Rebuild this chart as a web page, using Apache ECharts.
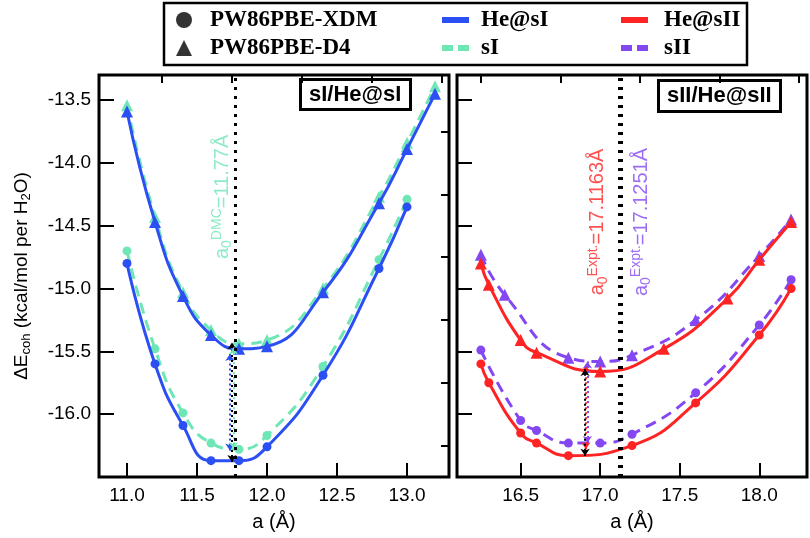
<!DOCTYPE html>
<html>
<head>
<meta charset="utf-8">
<script src="https://cdn.jsdelivr.net/npm/echarts@6/dist/echarts.min.js"></script>
<style>html,body{margin:0;padding:0;background:#fff;}#c{width:810px;height:538px;}</style>
</head>
<body>
<div id="c"></div>
<script>
// ---------- DATA ----------
// Left panel (sI / He@sI)
const aLeftD4 = [11.0, 11.2, 11.4, 11.6, 11.8, 12.0, 12.4, 12.8, 13.0, 13.2];
const heSI_D4 = [-13.59, -14.47, -15.06, -15.37, -15.48, -15.46, -15.03, -14.32, -13.89, -13.45];
const sI_D4   = [-13.54, -14.43, -15.03, -15.33, -15.44, -15.41, -15.00, -14.27, -13.84, -13.39];
const aLeftXDM = [11.0, 11.2, 11.4, 11.6, 11.8, 12.0, 12.4, 12.8, 13.0];
const heSI_XDM = [-14.80, -15.60, -16.09, -16.37, -16.37, -16.26, -15.69, -14.84, -14.35];
const sI_XDM   = [-14.70, -15.48, -15.99, -16.23, -16.28, -16.17, -15.62, -14.77, -14.29];

// Right panel (sII / He@sII)
const aHeSII_D4 = [16.25, 16.3, 16.5, 16.6, 17.0, 17.4, 17.8, 18.0, 18.2];
const heSII_D4  = [-14.80, -14.97, -15.41, -15.51, -15.66, -15.48, -15.08, -14.77, -14.47];
const aSII_D4   = [16.25, 16.4, 16.8, 17.0, 17.2, 17.6, 18.0, 18.2];
const sII_D4    = [-14.73, -15.05, -15.55, -15.58, -15.53, -15.25, -14.74, -14.45];
const aHeSII_XDM = [16.25, 16.3, 16.5, 16.6, 16.8, 17.2, 17.6, 18.0, 18.2];
const heSII_XDM  = [-15.60, -15.75, -16.15, -16.23, -16.33, -16.25, -15.91, -15.37, -15.00];
const aSII_XDM   = [16.25, 16.5, 16.6, 16.8, 17.0, 17.2, 17.6, 18.0, 18.2];
const sII_XDM    = [-15.49, -16.05, -16.13, -16.23, -16.23, -16.16, -15.83, -15.29, -14.93];

// Reference lattice constants (vertical dotted lines)
const a0Left = [11.77];
const a0Right = [17.1163, 17.1251];

// Energy-difference arrows: [a, from, to]
const arrowsLeft = [[11.735, -16.29, -15.52], [11.75, -16.38, -15.43], [11.76, -16.28, -15.47]];
const arrowsRight = [[16.91, -16.28, -15.61], [16.92, -16.23, -15.58], [16.905, -16.33, -15.64]];

// Tick values
const xLeftMajor = [11.0, 11.5, 12.0, 12.5, 13.0];
const xLeftMinor = [11.25, 11.75, 12.25, 12.75, 13.25];
const xRightMajor = [16.5, 17.0, 17.5, 18.0];
const xRightMinor = [16.25, 16.75, 17.25, 17.75, 18.25];
const yMajor = [-16.0, -15.5, -15.0, -14.5, -14.0, -13.5];
const yMinor = [-16.25, -15.75, -15.25, -14.75, -14.25, -13.75];

// ---------- STYLE ----------
const BLUE = '#2b4ff2', GREEN = '#6fe6b6', RED = '#ff2424', PURPLE = '#8448f2';
const SANS = 'Liberation Sans';
const SERIF = 'Liberation Serif';

const pairs = (xs, ys) => xs.map((x, i) => [x, ys[i]]);

function curve(name, xi, xs, ys, color, dashed, sym, size) {
  return {
    type: 'line', name: name, xAxisIndex: xi, yAxisIndex: xi,
    data: pairs(xs, ys), smooth: 0.5,
    symbol: sym, symbolSize: size, showSymbol: true,
    lineStyle: { color: color, width: 3, type: dashed ? [11, 7] : 'solid' },
    itemStyle: { color: color },
    z: dashed ? 2 : 3, silent: true
  };
}

function vlines(vals) {
  return vals.map(v => ({ xAxis: v }));
}
function arrows(list, colors) {
  return list.map((a, i) => [
    { coord: [a[0], a[1]], lineStyle: { color: colors[i], width: 2, type: [2, 3] } },
    { coord: [a[0], a[2]] }
  ]);
}

function xAx(grid, min, max, vals, len, showLabel) {
  return {
    gridIndex: grid, type: 'value', min: min, max: max,
    axisLine: { show: false }, splitLine: { show: false },
    axisTick: { show: true, inside: true, length: len, customValues: vals, lineStyle: { color: '#000', width: 2 } },
    axisLabel: { show: showLabel, customValues: vals, formatter: v => v.toFixed(1), fontSize: 19, fontFamily: SANS, color: '#000', margin: 9 },
    name: showLabel ? 'a (Å)' : '', nameLocation: 'middle', nameGap: 35,
    nameTextStyle: { fontSize: 20, fontFamily: SANS, color: '#000' }
  };
}
function yAx(grid, vals, len, showLabel, showName) {
  return {
    gridIndex: grid, type: 'value', min: -16.5, max: -13.3,
    axisLine: { show: false }, splitLine: { show: false },
    axisTick: { show: true, inside: true, length: len, customValues: vals, lineStyle: { color: '#000', width: 2 } },
    axisLabel: { show: showLabel, customValues: vals, formatter: v => v.toFixed(1), fontSize: 19, fontFamily: SANS, color: '#000', margin: 8 },
    name: showName ? '{n|ΔE}{s|coh}{n| (kcal/mol per H}{s|2}{n|O)}' : '',
    nameLocation: 'middle', nameRotate: 90, nameGap: 66,
    nameTextStyle: {
      color: '#000',
      rich: {
        n: { fontSize: 19, fontFamily: SANS, color: '#000', lineHeight: 22 },
        s: { fontSize: 13, fontFamily: SANS, color: '#000', lineHeight: 4, verticalAlign: 'bottom' }
      }
    }
  };
}

const labRich = (c) => ({
  n: { fontSize: 20, fontFamily: SANS, color: c, lineHeight: 24 },
  sub: { fontSize: 14, fontFamily: SANS, color: c, lineHeight: 4, verticalAlign: 'bottom' },
  sup: { fontSize: 14, fontFamily: SANS, color: c, lineHeight: 4, verticalAlign: 'top' }
});
function annot(xi, pos, text, color) {
  return {
    type: 'scatter', xAxisIndex: xi, yAxisIndex: xi, data: [pos],
    symbolSize: 0, silent: true, z: 5,
    label: { show: true, position: 'inside', rotate: 90, formatter: text, rich: labRich(color) }
  };
}

const chart = echarts.init(document.getElementById('c'), null, { renderer: 'canvas' });

const legendText = { fontFamily: SERIF, fontWeight: 'bold', fontSize: 23, color: '#000', lineHeight: 26 };
const dashIcon = 'path://M0,0h11v6h-11z M16,0h11v6h-11z';

const option = {
  animation: false,
  backgroundColor: '#fff',
  title: [
    { text: 'sI/He@sI', left: 300, top: 79, padding: [5, 9, 4, 9], borderWidth: 3, borderColor: '#000',
      textStyle: { fontFamily: SANS, fontWeight: 'bold', fontSize: 22, color: '#000' } },
    { text: 'sII/He@sII', left: 658, top: 80, padding: [5, 9, 5, 9], borderWidth: 3, borderColor: '#000',
      textStyle: { fontFamily: SANS, fontWeight: 'bold', fontSize: 22, color: '#000' } }
  ],
  legend: [
    { orient: 'vertical', left: 176, top: 7, padding: 0, itemGap: 2, itemWidth: 16, itemHeight: 16,
      textStyle: Object.assign({ padding: [0, 0, 0, 13] }, legendText),
      data: [
        { name: 'PW86PBE-XDM', icon: 'circle', itemStyle: { color: '#000' } },
        { name: 'PW86PBE-D4', icon: 'triangle', itemStyle: { color: '#000' } }
      ] },
    { orient: 'vertical', left: 442, top: 7, padding: 0, itemGap: 2, itemWidth: 27, itemHeight: 6,
      textStyle: Object.assign({ padding: [0, 0, 0, 7] }, legendText),
      data: [
        { name: 'He@sI', icon: 'rect', itemStyle: { color: BLUE } },
        { name: 'sI', icon: dashIcon, itemStyle: { color: GREEN } }
      ] },
    { orient: 'vertical', left: 621, top: 7, padding: 0, itemGap: 2, itemWidth: 27, itemHeight: 6,
      textStyle: Object.assign({ padding: [0, 0, 0, 11] }, legendText),
      data: [
        { name: 'He@sII', icon: 'rect', itemStyle: { color: RED } },
        { name: 'sII', icon: dashIcon, itemStyle: { color: PURPLE } }
      ] }
  ],
  graphic: [
    { type: 'rect', shape: { x: 164, y: 3, width: 583, height: 62 }, style: { fill: 'none', stroke: '#000', lineWidth: 2.5 }, silent: true }
  ],
  grid: [
    { left: 99, top: 75, width: 350, height: 402, show: true, borderColor: '#000', borderWidth: 3, backgroundColor: 'transparent', containLabel: false },
    { left: 457, top: 75, width: 350, height: 402, show: true, borderColor: '#000', borderWidth: 3, backgroundColor: 'transparent', containLabel: false }
  ],
  xAxis: [
    xAx(0, 10.8, 13.3, xLeftMajor, 14, true),
    xAx(0, 10.8, 13.3, xLeftMinor, 8, false),
    xAx(1, 16.1, 18.3, xRightMajor, 14, true),
    xAx(1, 16.1, 18.3, xRightMinor, 8, false)
  ],
  yAxis: [
    yAx(0, yMajor, 15, true, true),
    yAx(0, yMinor, 8, false, false),
    yAx(1, yMajor, 15, false, false),
    yAx(1, [], 0, false, false)
  ],
  series: [
    { type: 'scatter', name: 'PW86PBE-XDM', data: [], xAxisIndex: 0, yAxisIndex: 0, itemStyle: { color: '#000' } },
    { type: 'scatter', name: 'PW86PBE-D4', data: [], xAxisIndex: 0, yAxisIndex: 0, itemStyle: { color: '#000' } },
    Object.assign(curve('sI', 0, aLeftXDM, sI_XDM, GREEN, true, 'circle', 9), {
      markLine: { silent: true, symbol: ['arrow', 'arrow'], symbolSize: 7, label: { show: false },
        data: arrows(arrowsLeft, [BLUE, '#000', GREEN]) }
    }),
    Object.assign(curve('sI', 0, aLeftD4, sI_D4, GREEN, true, 'triangle', 12), {
      markLine: { silent: true, symbol: 'none', label: { show: false },
        lineStyle: { color: '#000', width: 3, type: [3, 6] }, data: vlines(a0Left) }
    }),
    curve('He@sI', 0, aLeftXDM, heSI_XDM, BLUE, false, 'circle', 9),
    curve('He@sI', 0, aLeftD4, heSI_D4, BLUE, false, 'triangle', 12),
    Object.assign(curve('sII', 2, aSII_XDM, sII_XDM, PURPLE, true, 'circle', 9), {
      markLine: { silent: true, symbol: ['arrow', 'arrow'], symbolSize: 7, label: { show: false },
        data: arrows(arrowsRight, [RED, PURPLE, '#000']) }
    }),
    Object.assign(curve('sII', 2, aSII_D4, sII_D4, PURPLE, true, 'triangle', 12), {
      markLine: { silent: true, symbol: 'none', label: { show: false },
        lineStyle: { color: '#000', width: 3, type: [3, 6] }, data: vlines(a0Right) }
    }),
    curve('He@sII', 2, aHeSII_XDM, heSII_XDM, RED, false, 'circle', 9),
    curve('He@sII', 2, aHeSII_D4, heSII_D4, RED, false, 'triangle', 12),
    annot(0, [11.68, -14.27], '{n|a}{sub|0}{sup|DMC}{n|=11.77Å}', GREEN),
    annot(2, [16.985, -14.47], '{n|a}{sub|0}{sup|Expt.}{n|=17.1163Å}', RED),
    annot(2, [17.26, -14.47], '{n|a}{sub|0}{sup|Expt.}{n|=17.1251Å}', PURPLE)
  ]
};
chart.setOption(option);
</script>
</body>
</html>
